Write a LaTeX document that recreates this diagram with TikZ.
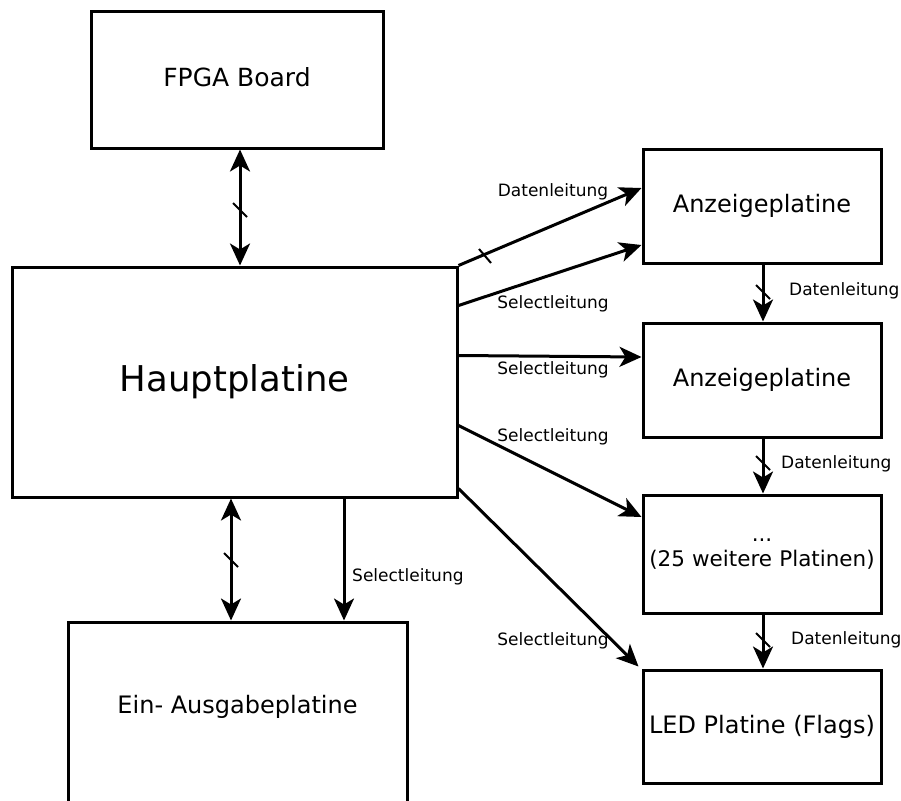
\documentclass[tikz,border=0pt]{standalone}
\usepackage{fontspec}
\setmainfont{DejaVu Sans}
\usetikzlibrary{arrows.meta,calc}
\begin{document}
\begin{tikzpicture}[x=1pt,y=-1pt,
  box/.style={draw,line width=3pt,inner sep=0pt,anchor=center,align=center,
              font=\fontsize{24}{30}\selectfont},
  lbl/.style={font=\fontsize{17}{20}\selectfont,inner sep=0pt},
  conn/.style={line width=3pt,-{Stealth[length=22pt,width=20pt,inset=6pt]}},
  bi/.style={line width=3pt,{Stealth[length=22pt,width=20pt,inset=6pt]}-{Stealth[length=22pt,width=20pt,inset=6pt]}},
  bustick/.style={line width=2pt}]
\useasboundingbox (0,0) rectangle (901,800);
\clip (0,0) rectangle (901,800);

% boards
\node[box,minimum width=292pt,minimum height=136pt,font=\fontsize{25}{30}\selectfont] (fpga) at (237,80) {\raisebox{5pt}{FPGA Board}};
\node[box,minimum width=445pt,minimum height=230pt,font=\fontsize{35.5}{40}\selectfont] (haupt) at (234.5,382) {\raisebox{3pt}{Hauptplatine}};
\node[box,minimum width=339pt,minimum height=198pt,
      label={[font=\fontsize{24}{30}\selectfont,yshift=14pt]center:Ein- Ausgabeplatine}] (io) at (237.5,721) {};
\node[box,minimum width=238pt,minimum height=114pt] (anz1) at (762,206) {\raisebox{3pt}{Anzeigeplatine}};
\node[box,minimum width=238pt,minimum height=114pt] (anz2) at (762,380) {\raisebox{1pt}{Anzeigeplatine}};
\node[box,minimum width=238pt,minimum height=118pt,text width=236pt,font=\fontsize{21.5}{25}\selectfont] (dots) at (762,554) {...\\(25 weitere Platinen)};
\node[box,minimum width=238pt,minimum height=113pt] (led) at (762,726.5) {\raisebox{3pt}{LED Platine (Flags)}};

% FPGA <-> Hauptplatine
\draw[bi] ([xshift=3pt]fpga.south) -- ([xshift=3pt]fpga.south |- haupt.north);
\coordinate (t1) at (240,210);
\draw[bustick] ($(t1)+(-7,-7)$) -- ($(t1)+(7,7)$);

% Hauptplatine -> Anzeigeplatine 1
\draw[conn] (haupt.north east) -- ([yshift=18pt]anz1.west);
\coordinate (t2) at (485,256);
\draw[bustick] ($(t2)+(-6,-7)$) -- ($(t2)+(6,7)$);
\node[lbl] (l1) at (553,192) {Datenleitung};
\draw[conn] ([yshift=-40pt]haupt.north east) -- ([yshift=-39pt]anz1.west);
\node[lbl] (l2) at (553,304) {Selectleitung};

% Hauptplatine -> Anzeigeplatine 2
\draw[conn] ([yshift=-90pt]haupt.north east) -- ([yshift=23pt]anz2.west);
\node[lbl] (l3) at (553,370) {Selectleitung};

% Hauptplatine -> weitere Platinen
\draw[conn] ([yshift=-160pt]haupt.north east) -- ([yshift=37pt]dots.west);
\node[lbl] (l4) at (553,437) {Selectleitung};

% Hauptplatine -> LED Platine
\draw[conn] ([yshift=10pt]haupt.south east) -- ([xshift=-3pt,yshift=2pt]led.north west);
\node[lbl] (l5) at (553,641) {Selectleitung};

% daisy chain of data lines
\draw[conn] ([xshift=1pt]anz1.south) -- ([xshift=1pt]anz2.north);
\coordinate (t3) at (763,292);
\draw[bustick] ($(t3)+(-7,-7)$) -- ($(t3)+(7,7)$);
\node[lbl,anchor=west] (l6) at (789,291) {Datenleitung};

\draw[conn] ([xshift=1pt]anz2.south) -- ([xshift=1pt]dots.north);
\coordinate (t4) at (763,463);
\draw[bustick] ($(t4)+(-7,-7)$) -- ($(t4)+(7,7)$);
\node[lbl,anchor=west] (l7) at (781,464) {Datenleitung};

\draw[conn] ([xshift=1pt]dots.south) -- ([xshift=1pt]led.north);
\coordinate (t5) at (763,640);
\draw[bustick] ($(t5)+(-7,-7)$) -- ($(t5)+(7,7)$);
\node[lbl,anchor=west] (l8) at (791,640) {Datenleitung};

% Hauptplatine <-> Ein-/Ausgabeplatine
\draw[bi] (231,0 |- haupt.south) -- (231,0 |- io.north);
\coordinate (t6) at (231,560);
\draw[bustick] ($(t6)+(-7,-7)$) -- ($(t6)+(7,7)$);
\draw[conn] (344,0 |- haupt.south) -- (344,0 |- io.north);
\node[lbl,anchor=west] (l9) at (352,577) {Selectleitung};
\end{tikzpicture}
\end{document}
